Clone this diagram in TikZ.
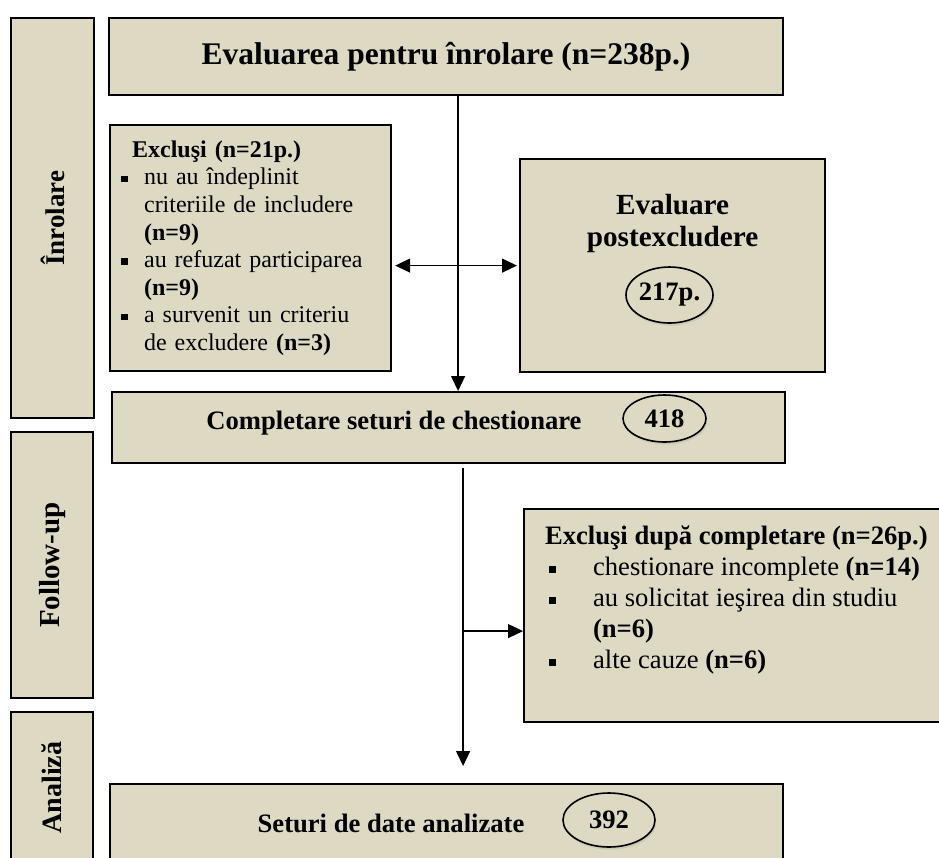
\documentclass[tikz,border=0pt]{standalone}
\usepackage{fontspec}
\setmainfont{Liberation Serif}
\usetikzlibrary{arrows.meta,positioning,shapes.geometric,shadows}
\definecolor{boxtan}{RGB}{221,217,195}

% square bullet in a box of given width, with optional left indent
\newcommand{\sqbullet}[2][0pt]{\makebox[#2][l]{\hspace*{#1}\rule[1.3pt]{3.3pt}{3.3pt}}}

\begin{document}
\begin{tikzpicture}[
    x=0.5pt, y=-0.5pt,
    box/.style={rectangle, draw, line width=1.1pt, fill=boxtan, inner sep=0pt,
                anchor=north west},
    phase/.style={box, font=\bfseries},
    count/.style={ellipse, draw, line width=0.8pt, fill=boxtan, inner sep=0pt,
                  font=\bfseries\fontsize{13.3}{15}\selectfont,
                  drop shadow={opacity=0.18, shadow xshift=0.6pt, shadow yshift=-1.3pt}},
    arrow/.style={-{Triangle[length=7.5pt,width=7pt]}, line width=0.65pt},
    darrow/.style={{Triangle[length=7.5pt,width=7pt]}-{Triangle[length=7.5pt,width=7pt]},
                   line width=0.65pt}
]
\useasboundingbox (0,0) rectangle (939,858);
\fill[white] (0,0) rectangle (939,858);
\clip (0,0) rectangle (939,858);

% phases on the left
\node[phase, minimum width=41.5pt, minimum height=200pt] (inrolare) at (10,17)
    {\fontsize{13.5}{15}\selectfont\rotatebox{90}{Înrolare}};
\node[phase, minimum width=41pt, minimum height=133pt] (followup) at (10,431)
    {\fontsize{14.5}{16}\selectfont\rotatebox{90}{Follow-up}};
\node[phase, minimum width=41pt, minimum height=75.5pt] (analiza) at (10,711)
    {\fontsize{14}{16}\selectfont\rotatebox{90}{Analiză}};

% enrolment
\node[box, minimum width=337pt, minimum height=38.5pt,
      font=\bfseries\fontsize{15.75}{18}\selectfont] (eval) at (108,17)
    {Evaluarea pentru înrolare (n=238p.)};

\node[box, inner xsep=5.5pt, text width=129.5pt, minimum height=123pt, align=left,
      font=\fontsize{12}{13.8}\selectfont] (exclusi) at (109,124)
    {\hspace*{5.5pt}\textbf{Excluşi (n=21p.)}\\
     \sqbullet{11.5pt}nu au îndeplinit\\
     \hspace*{11.5pt}criteriile de includere\\
     \hspace*{11.5pt}\textbf{(n=9)}\\
     \sqbullet{11.5pt}au refuzat participarea\\
     \hspace*{11.5pt}\textbf{(n=9)}\\
     \sqbullet{11.5pt}a survenit un criteriu\\
     \hspace*{11.5pt}de excludere \textbf{(n=3)}};

\node[box, font=\bfseries\fontsize{14.6}{16}\selectfont] (postexcl) at (519,158)
    {\parbox[c][106.5pt][t]{152.5pt}{\centering\vspace*{17.5pt}Evaluare\\postexcludere}};
\node[count, minimum width=43.5pt, minimum height=28pt] (n217) at (669.5,295) {217p.};

% follow-up
\node[box, minimum width=336.5pt, minimum height=35.5pt] (compl) at (111,391) {};
\node[anchor=base, inner sep=0pt, font=\bfseries\fontsize{13.3}{15}\selectfont]
    (compltxt) at (394,429) {Completare seturi de chestionare};
\node[count, minimum width=41.5pt, minimum height=23.5pt] (n418) at (664.5,418.5) {418};

\node[box, inner xsep=10.5pt, inner ysep=8.3pt, font=\fontsize{13.3}{15.5}\selectfont]
    (exclusi2) at (523,508)
    {\parbox[c][89.9pt][t]{196pt}{\raggedright
     \textbf{Excluşi după completare (n=26p.)}\\
     \sqbullet[2pt]{24pt}chestionare incomplete \textbf{(n=14)}\\
     \sqbullet[2pt]{24pt}au solicitat ieşirea din studiu\\
     \hspace*{24pt}\textbf{(n=6)}\\
     \sqbullet[2pt]{24pt}alte cauze \textbf{(n=6)}}};

% analysis
\node[box, minimum width=336.5pt, minimum height=39.5pt] (seturi) at (109,783) {};
\node[anchor=base, inner sep=0pt, font=\bfseries\fontsize{13.3}{15}\selectfont]
    (seturitxt) at (391,832.6) {Seturi de date analizate};
\node[count, minimum width=46pt, minimum height=27pt] (n392) at (609,820) {392};

% connectors
\draw[arrow] ([xshift=6pt]eval.south) -- ([xshift=6pt]eval.south |- compl.north);
\draw[darrow, shorten <=1.5pt, shorten >=1pt] (exclusi.east |- postexcl.west) -- (postexcl.west);

\coordinate (split) at ([xshift=7.25pt]compl.south);
\coordinate (ex2in) at ([yshift=-7.75pt]exclusi2.west);
\draw[arrow, shorten <=2pt, shorten >=8.5pt] (split) -- (split |- seturi.north);
\draw[arrow] ([xshift=0.5pt]split |- ex2in) -- (ex2in);

\end{tikzpicture}
\end{document}
